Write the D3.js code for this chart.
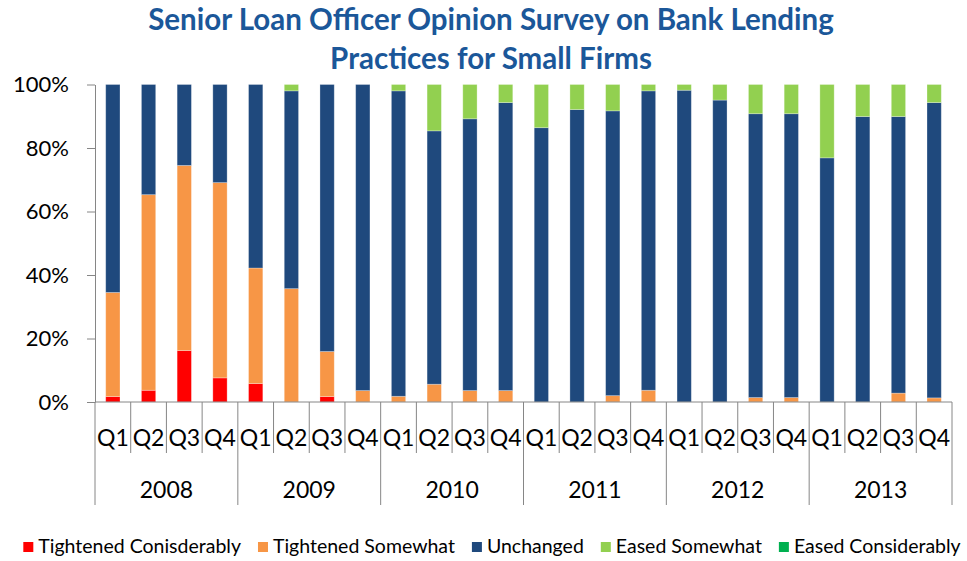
<!DOCTYPE html>
<meta charset="utf-8">
<style>
body { margin: 0; background: #fff; }
svg { font-family: Lato, "Liberation Sans", sans-serif; }
.axis path, .axis line { stroke: #868686; }
</style>
<svg width="967" height="561"></svg>
<script src="https://d3js.org/d3.v7.min.js"></script>
<script>
// survey data, % of respondents
var years = ["2008", "2009", "2010", "2011", "2012", "2013"];
var quarters = ["Q1", "Q2", "Q3", "Q4"];
var seriesNames = ["Tightened Conisderably", "Tightened Somewhat", "Unchanged", "Eased Somewhat", "Eased Considerably"];
var seriesColors = ["#ff0000", "#f79646", "#1f497d", "#92d050", "#00b050"];

var tightenedConsiderably = [1.7, 3.7, 16.2, 7.6, 5.8, 0, 1.7, 0, 0, 0, 0, 0, 0, 0, 0, 0, 0, 0, 0, 0, 0, 0, 0, 0];
var tightenedSomewhat = [32.8, 61.6, 58.3, 61.5, 36.4, 35.7, 14.2, 3.6, 1.8, 5.6, 3.6, 3.6, 0, 0, 2.0, 3.7, 0, 0, 1.4, 1.4, 0, 0, 2.8, 1.3];
var unchanged = [65.5, 34.7, 25.5, 30.9, 57.8, 62.3, 84.1, 96.4, 96.2, 79.8, 85.6, 90.7, 86.4, 92.1, 89.7, 94.3, 98.2, 95.1, 89.4, 89.4, 76.9, 89.9, 87.1, 93.0];
var easedSomewhat = [0, 0, 0, 0, 0, 2.0, 0, 0, 2.0, 14.6, 10.8, 5.7, 13.6, 7.9, 8.3, 2.0, 1.8, 4.9, 9.2, 9.2, 23.1, 10.1, 10.1, 5.7];
var easedConsiderably = [0, 0, 0, 0, 0, 0, 0, 0, 0, 0, 0, 0, 0, 0, 0, 0, 0, 0, 0, 0, 0, 0, 0, 0];

var svg = d3.select("svg"),
    plotLeft = 95, plotRight = 952, plotTop = 84.5, plotBottom = 402;

// build table for the stack
var cats = [];
years.forEach(function(y) { quarters.forEach(function(q) { cats.push(y + " " + q); }); });
var allSeries = [tightenedConsiderably, tightenedSomewhat, unchanged, easedSomewhat, easedConsiderably];
var table = cats.map(function(c, i) {
  var row = { cat: c, year: c.split(" ")[0], q: c.split(" ")[1] };
  seriesNames.forEach(function(s, j) { row[s] = allSeries[j][i]; });
  return row;
});

var x = d3.scaleBand().domain(cats).range([plotLeft, plotRight]).paddingInner(0.6).paddingOuter(0.3);
var y = d3.scaleLinear().domain([0, 100]).range([plotBottom, plotTop]);
var color = d3.scaleOrdinal().domain(seriesNames).range(seriesColors);

var layers = d3.stack().keys(seriesNames)(table);

// title
svg.append("text")
    .attr("text-anchor", "middle")
    .style("font-weight", "bold")
    .style("font-size", "29.5px")
    .style("fill", "#1b5799")
  .selectAll("tspan")
    .data(["Senior Loan Officer Opinion Survey on Bank Lending", "Practices for Small Firms"])
  .enter().append("tspan")
    .attr("x", 491)
    .attr("y", function(d, i) { return 30 + i * 39; })
    .text(function(d) { return d; });

// bars
svg.append("g").selectAll("g")
    .data(layers)
  .enter().append("g")
    .attr("fill", function(d) { return color(d.key); })
  .selectAll("rect")
    .data(function(d) { return d; })
  .enter().append("rect")
    .attr("x", function(d) { return x(d.data.cat); })
    .attr("y", function(d) { return y(d[1]); })
    .attr("width", x.bandwidth())
    .attr("height", function(d) { return y(d[0]) - y(d[1]); })
    .attr("stroke", "rgba(255,255,255,0.35)")
    .attr("stroke-width", 0.8);

// y axis
var yAxis = svg.append("g")
    .attr("class", "axis")
    .attr("transform", "translate(" + plotLeft + ",0)")
    .call(d3.axisLeft(y).tickValues([0, 20, 40, 60, 80, 100])
      .tickFormat(function(d) { return d + "%"; })
      .tickSize(8).tickPadding(18).tickSizeOuter(0));
yAxis.selectAll("text")
    .style("font-size", "22px")
    .style("fill", "#000")
    .style("font-family", "Lato, sans-serif");

// x axis: baseline, separators, labels
var xg = svg.append("g").attr("class", "axis");
xg.append("line")
    .attr("x1", plotLeft).attr("x2", plotRight)
    .attr("y1", plotBottom).attr("y2", plotBottom);

var step = x.step();
xg.selectAll("line.sep")
    .data(d3.range(cats.length + 1))
  .enter().append("line")
    .attr("class", "sep")
    .attr("x1", function(i) { return plotLeft + i * step; })
    .attr("x2", function(i) { return plotLeft + i * step; })
    .attr("y1", plotBottom)
    .attr("y2", function(i) { return i % 4 === 0 ? 505 : 453; });

xg.selectAll("text.q")
    .data(table)
  .enter().append("text")
    .attr("class", "q")
    .attr("x", function(d) { return x(d.cat) + x.bandwidth() / 2; })
    .attr("y", 446)
    .attr("text-anchor", "middle")
    .style("font-size", "23px")
    .text(function(d) { return d.q; });

xg.selectAll("text.yr")
    .data(years)
  .enter().append("text")
    .attr("class", "yr")
    .attr("x", function(d) { return (x(d + " Q1") + x(d + " Q4") + x.bandwidth()) / 2; })
    .attr("y", 498)
    .attr("text-anchor", "middle")
    .style("font-size", "23px")
    .text(function(d) { return d; });

// legend
var legend = svg.append("g").style("font-size", "19.5px");
var lx = 0;
var items = legend.selectAll("g")
    .data(seriesNames)
  .enter().append("g");
items.append("rect")
    .attr("width", 10).attr("height", 10)
    .attr("y", -11)
    .attr("fill", function(d) { return color(d); });
items.append("text")
    .attr("x", 15)
    .text(function(d) { return d; });
items.each(function() {
  var g = d3.select(this);
  g.attr("transform", "translate(" + lx + ",0)");
  lx += 15 + g.select("text").node().getComputedTextLength() + 17;
});
lx -= 17;
legend.attr("transform", "translate(" + (492 - lx / 2) + ",553)");
</script>
